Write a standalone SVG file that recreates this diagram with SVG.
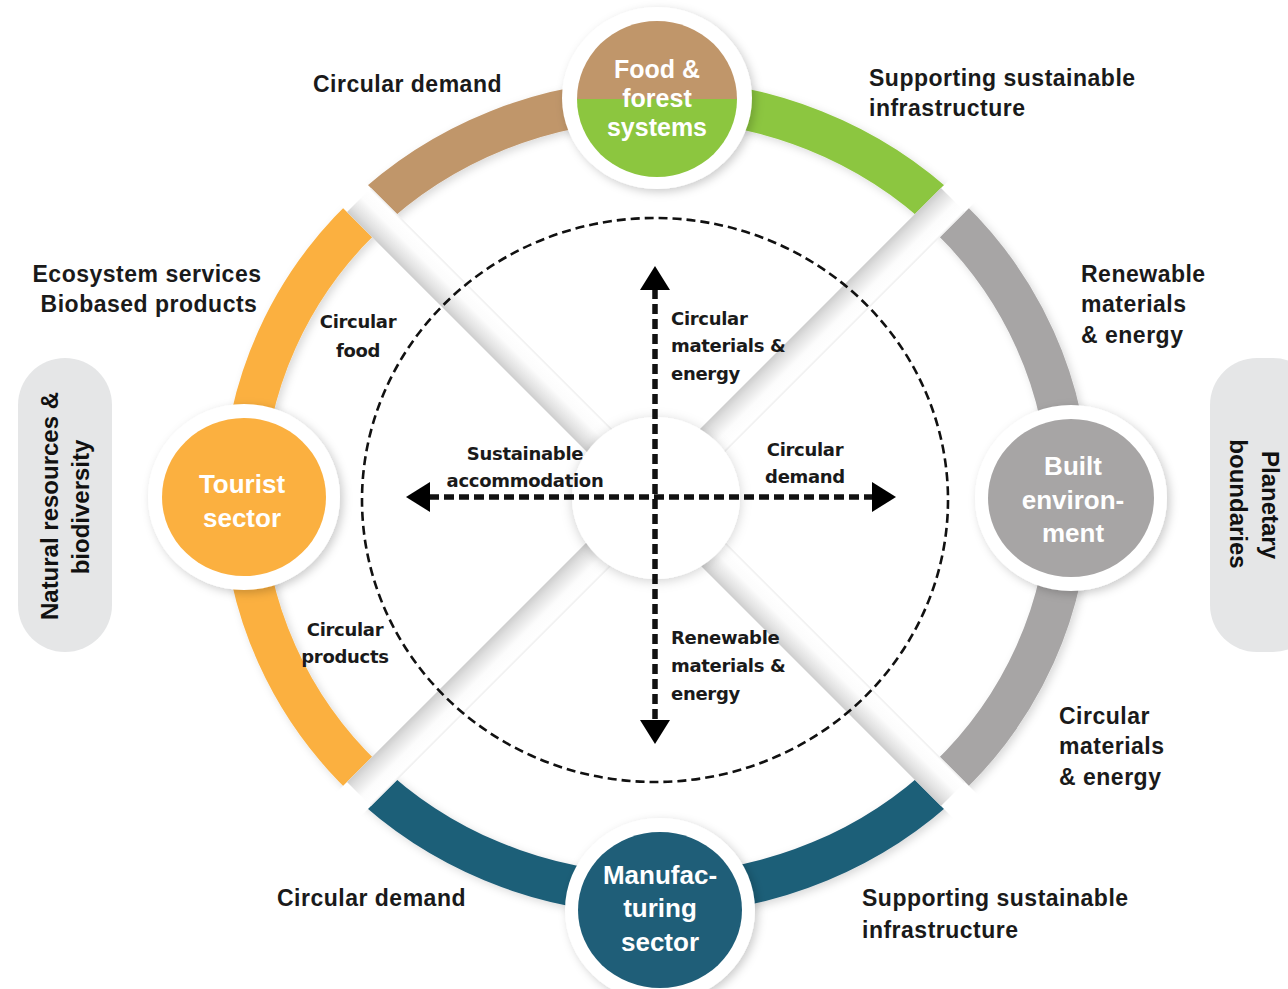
<svg xmlns="http://www.w3.org/2000/svg" width="1288" height="989" viewBox="0 0 1288 989">
<defs>
<style>
.arc{fill:none;stroke-width:41;stroke-linecap:butt}
.lbl{font-family:"Liberation Sans",Arial,sans-serif;font-weight:bold;font-size:23px;letter-spacing:0.5px;fill:#1a1a1a}
.in{font-family:"DejaVu Sans",Verdana,sans-serif;font-weight:bold;font-size:18px;fill:#1a1a1a;letter-spacing:-0.3px}
.nd{font-family:"Liberation Sans",Arial,sans-serif;font-weight:bold;font-size:26px;fill:#ffffff;text-anchor:middle}
.side{font-family:"Liberation Sans",Arial,sans-serif;font-weight:bold;font-size:24px;fill:#111111;text-anchor:middle}
.halo{fill:#ffffff;filter:url(#sh)}
.pill{fill:#e5e6e7}
.dash{fill:none;stroke:#111;stroke-width:5.5;stroke-dasharray:10 5}
.gap{fill:#000}
</style>
<filter id="sh" x="-30%" y="-30%" width="160%" height="160%">
<feDropShadow dx="3" dy="3" stdDeviation="5" flood-color="#000" flood-opacity="0.2"/>
</filter>
<filter id="sh2" x="-30%" y="-30%" width="160%" height="160%">
<feDropShadow dx="0" dy="2" stdDeviation="6" flood-color="#000" flood-opacity="0.18"/>
</filter>
<filter id="ash" x="-10%" y="-10%" width="120%" height="120%">
<feDropShadow dx="3" dy="3" stdDeviation="4" flood-color="#000" flood-opacity="0.15"/>
</filter>
<linearGradient id="spA" x1="0" y1="0" x2="0" y2="1">
<stop offset="0" stop-color="#cdcdcd"/>
<stop offset="0.2" stop-color="#e0e0e0"/>
<stop offset="0.6" stop-color="#fcfcfc"/>
<stop offset="0.93" stop-color="#ffffff"/>
<stop offset="1" stop-color="#ebebeb"/>
</linearGradient>
<linearGradient id="spB" x1="0" y1="1" x2="0" y2="0">
<stop offset="0" stop-color="#cdcdcd"/>
<stop offset="0.2" stop-color="#e0e0e0"/>
<stop offset="0.6" stop-color="#fcfcfc"/>
<stop offset="0.93" stop-color="#ffffff"/>
<stop offset="1" stop-color="#ebebeb"/>
</linearGradient>
<mask id="gaps" maskUnits="userSpaceOnUse" x="0" y="0" width="1288" height="989">
<rect width="1288" height="989" fill="#fff"/>
<rect class="gap" x="0" y="-17" width="470" height="34" transform="translate(656,497) rotate(-135)"/>
<rect class="gap" x="0" y="-17" width="470" height="34" transform="translate(656,497) rotate(-45)"/>
<rect class="gap" x="0" y="-17" width="470" height="34" transform="translate(656,497) rotate(135)"/>
<rect class="gap" x="0" y="-17" width="470" height="34" transform="translate(656,497) rotate(45)"/>
</mask>
<marker id="ah" viewBox="0 0 24 30" markerWidth="24" markerHeight="30" refX="1" refY="15" orient="auto-start-reverse" markerUnits="userSpaceOnUse">
<path d="M0,0 L24,15 L0,30 Z" fill="#000"/>
</marker>
</defs>
<rect width="1288" height="989" fill="#ffffff"/>

<g id="connectors">
<g id="ring" mask="url(#gaps)">
<g filter="url(#ash)">
<path class="arc" stroke="#c0966a" d="M364,216.3 A413,397 0 0 1 656,100"/>
<path class="arc" stroke="#8cc63f" d="M656,100 A413,397 0 0 1 948,216.3"/>
<path class="arc" stroke="#a7a5a5" d="M948,216.3 A413,397 0 0 1 948,777.7"/>
<path class="arc" stroke="#1f5e78" d="M948,777.7 A413,397 0 0 1 364,777.7"/>
<path class="arc" stroke="#fbb040" d="M364,777.7 A413,397 0 0 1 364,216.3"/>
</g>
</g>
<g id="spokes">
<rect x="0" y="-17" width="420" height="34" fill="url(#spA)" transform="translate(656,497) rotate(-135)"/>
<rect x="0" y="-17" width="420" height="34" fill="url(#spA)" transform="translate(656,497) rotate(-45)"/>
<rect x="0" y="-17" width="420" height="34" fill="url(#spB)" transform="translate(656,497) rotate(135)"/>
<rect x="0" y="-17" width="420" height="34" fill="url(#spB)" transform="translate(656,497) rotate(45)"/>
</g>
</g>

<g id="node-center">
<ellipse cx="656" cy="498" rx="84" ry="81" fill="#ffffff" filter="url(#sh2)"/>
</g>

<g id="boundary">
<ellipse cx="655" cy="500" rx="293" ry="282" fill="none" stroke="#111" stroke-width="2.6" stroke-dasharray="9 5"/>
</g>

<g id="arrows">
<line class="dash" x1="655" y1="289" x2="655" y2="721" marker-start="url(#ah)" marker-end="url(#ah)"/>
<line class="dash" x1="429" y1="497" x2="873" y2="497" marker-start="url(#ah)" marker-end="url(#ah)"/>
</g>

<g id="node-food">
<ellipse class="halo" cx="657" cy="98" rx="95" ry="91"/>
<path d="M577,99 A80,78 0 0 1 737,99 Z" fill="#c0966a"/>
<path d="M577,99 A80,78 0 0 0 737,99 Z" fill="#8cc63f"/>
<text class="nd" x="657" y="78" style="font-size:25px">Food &amp;</text>
<text class="nd" x="657" y="107" style="font-size:25px">forest</text>
<text class="nd" x="657" y="136" style="font-size:25px">systems</text>
</g>

<g id="node-tourist">
<ellipse class="halo" cx="244" cy="497" rx="96" ry="93"/>
<ellipse cx="244" cy="497" rx="82" ry="79" fill="#fbb040"/>
<text class="nd" x="242" y="493">Tourist</text>
<text class="nd" x="242" y="527">sector</text>
</g>

<g id="node-built">
<ellipse class="halo" cx="1071" cy="498" rx="96" ry="93"/>
<ellipse cx="1071" cy="498" rx="83" ry="79" fill="#a7a5a5"/>
<text class="nd" x="1073" y="475">Built</text>
<text class="nd" x="1073" y="509">environ-</text>
<text class="nd" x="1073" y="542">ment</text>
</g>

<g id="node-manufacturing">
<ellipse class="halo" cx="660" cy="910" rx="95" ry="92"/>
<ellipse cx="660" cy="910" rx="82" ry="78" fill="#1f5e78"/>
<text class="nd" x="660" y="884">Manufac-</text>
<text class="nd" x="660" y="917">turing</text>
<text class="nd" x="660" y="951">sector</text>
</g>

<g id="node-natural">
<rect class="pill" x="18" y="358" width="94" height="294" rx="47"/>
<text class="side" transform="translate(58,506) rotate(-90)">Natural resources &amp;</text>
<text class="side" transform="translate(89,507) rotate(-90)">biodiversity</text>
</g>

<g id="node-planetary">
<rect class="pill" x="1210" y="358" width="110" height="294" rx="47"/>
<text class="side" transform="translate(1262,505) rotate(90)">Planetary</text>
<text class="side" transform="translate(1230,504) rotate(90)">boundaries</text>
</g>

<g id="outer-labels">
<text class="lbl" x="313" y="92">Circular demand</text>
<text class="lbl" x="869" y="86">Supporting sustainable</text>
<text class="lbl" x="869" y="116">infrastructure</text>
<text class="lbl" x="147" y="282" text-anchor="middle">Ecosystem services</text>
<text class="lbl" x="149" y="312" text-anchor="middle">Biobased products</text>
<text class="lbl" x="1081" y="282">Renewable</text>
<text class="lbl" x="1081" y="312">materials</text>
<text class="lbl" x="1081" y="343">&amp; energy</text>
<text class="lbl" x="1059" y="724">Circular</text>
<text class="lbl" x="1059" y="754">materials</text>
<text class="lbl" x="1059" y="785">&amp; energy</text>
<text class="lbl" x="277" y="906">Circular demand</text>
<text class="lbl" x="862" y="906">Supporting sustainable</text>
<text class="lbl" x="862" y="938">infrastructure</text>
</g>

<g id="inner-labels">
<text class="in" x="358" y="328" text-anchor="middle">Circular</text>
<text class="in" x="358" y="357" text-anchor="middle">food</text>
<text class="in" x="345" y="636" text-anchor="middle">Circular</text>
<text class="in" x="345" y="663" text-anchor="middle">products</text>
<text class="in" x="525" y="460" text-anchor="middle">Sustainable</text>
<text class="in" x="525" y="487" text-anchor="middle">accommodation</text>
<text class="in" x="805" y="456" text-anchor="middle">Circular</text>
<text class="in" x="805" y="483" text-anchor="middle">demand</text>
<text class="in" x="671" y="325">Circular</text>
<text class="in" x="671" y="352">materials &amp;</text>
<text class="in" x="671" y="380">energy</text>
<text class="in" x="671" y="644">Renewable</text>
<text class="in" x="671" y="672">materials &amp;</text>
<text class="in" x="671" y="700">energy</text>
</g>
</svg>
